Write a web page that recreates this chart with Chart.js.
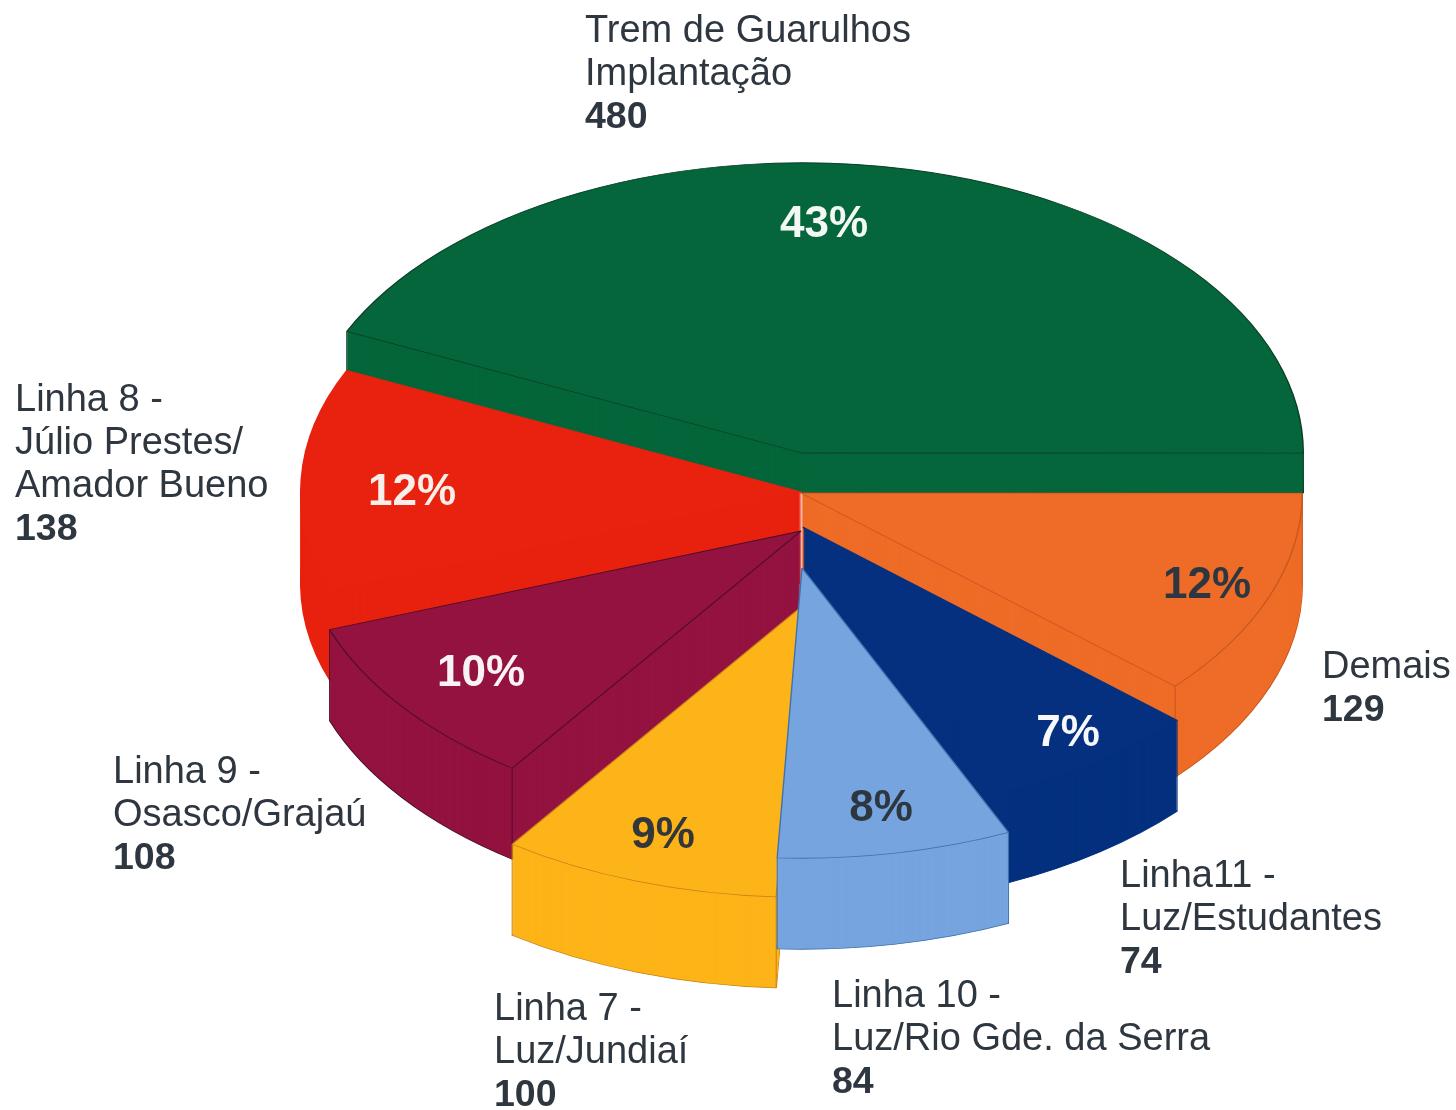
<!DOCTYPE html>
<html><head><meta charset="utf-8">
<style>html,body{margin:0;padding:0;background:#fff}canvas{display:block}</style>
<script src="https://cdn.jsdelivr.net/npm/chart.js@4/dist/chart.umd.js"></script>
</head><body><canvas id="c" width="1456" height="1110"></canvas>
<script>
const categories = ["Trem de Guarulhos Implantação","Demais","Linha11 - Luz/Estudantes","Linha 10 - Luz/Rio Gde. da Serra","Linha 7 - Luz/Jundiaí","Linha 9 - Osasco/Grajaú","Linha 8 - Júlio Prestes/Amador Bueno"];
const values = [480,129,74,84,100,108,138];
const percents = ["43%","12%","7%","8%","9%","10%","12%"];
const nameLines = [["Trem de Guarulhos","Implantação"],["Demais"],["Linha11 -","Luz/Estudantes"],["Linha 10 -","Luz/Rio Gde. da Serra"],["Linha 7 -","Luz/Jundiaí"],["Linha 9 -","Osasco/Grajaú"],["Linha 8 -","Júlio Prestes/","Amador Bueno"]];

const fills = ["#04663a","#ee6c27","#04307f","#76a4de","#fdb418","#93123f","#e8220f"];
const edges = ["#0a3f26","#c9561e","#04307f","#3f73ad","#c9801a","#4f0d2c","#e8220f"];
const pctColors = ["#f4f8f4","#2e3640","#f6f8fb","#2e3640","#33363a","#f8f2f4","#f8eeea"];
const apexY = [453,493,527,568,607,531,492];
const shiftX = [0,-1,1,0,-1,-1,0];
const depths = [40,91,91,91,91,91,91];
const drawOrder = [0,6,1,5,2,4,3];
const squash = 0.579;
const nameAnchor = [[585,42],[1322,678],[1120,887],[832,1007],[494,1020],[113,783],[15,411]];
const pctAnchor = [[824,225],[1207,586],[1068,734],[881,809],[663,836],[481,674],[412,493]];
const lineStep = 43;
const textColor = "#2e3640";

const extrude = {
  id:"extrude",
  beforeDatasetDraw(chart,args){
    const ctx = chart.ctx, meta = args.meta;
    drawOrder.forEach(i=>{
      const el = meta.data[i], depth = depths[i];
      const plain = Object.create(el);
      plain.options = Object.assign({},el.options,{borderWidth:0});
      const place = k=>{ctx.setTransform(1,0,0,1,0,0);ctx.translate(shiftX[i],apexY[i]+k);ctx.scale(1,squash);ctx.translate(0,-el.y);};
      ctx.save();
      place(depth); el.draw(ctx);
      for(let k=depth-1;k>0;k--){place(k);plain.draw(ctx);}
      place(0); el.draw(ctx);
      ctx.setTransform(1,0,0,1,0,0);
      ctx.strokeStyle=edges[i];ctx.lineWidth=1;
      const corner=(a,visible)=>{
        if(!visible) return;
        const x=shiftX[i]+el.x+Math.cos(a)*el.outerRadius, y=apexY[i]+Math.sin(a)*el.outerRadius*squash;
        ctx.beginPath();ctx.moveTo(x,y);ctx.lineTo(x,y+depth);ctx.stroke();
      };
      corner(el.startAngle,Math.sin(el.startAngle)>0||Math.cos(el.startAngle)<0);
      corner(el.endAngle,Math.sin(el.endAngle)>0||Math.cos(el.endAngle)>0);
      ctx.restore();
    });
    return false;
  },
  afterDraw(chart){
    const ctx=chart.ctx;
    ctx.save();
    ctx.textBaseline="alphabetic";
    categories.forEach((_,i)=>{
      const [x,y0]=nameAnchor[i];
      ctx.textAlign="left";ctx.fillStyle=textColor;
      ctx.font='38px "Liberation Sans"';
      nameLines[i].forEach((t,n)=>ctx.fillText(t,x,y0+n*lineStep));
      ctx.font='bold 37.5px "Liberation Sans"';
      ctx.fillText(String(values[i]),x,y0+nameLines[i].length*lineStep);
      ctx.font='bold 44px "Liberation Sans"';
      ctx.textAlign="center";ctx.textBaseline="middle";ctx.fillStyle=pctColors[i];
      ctx.fillText(percents[i],pctAnchor[i][0],pctAnchor[i][1]);
      ctx.textBaseline="alphabetic";
    });
    ctx.restore();
  }
};

new Chart(document.getElementById("c"),{
  type:"pie",
  data:{labels:categories,datasets:[{data:values,backgroundColor:fills,borderColor:edges,borderWidth:1.4,borderAlign:"center"}]},
  options:{
    responsive:false,animation:false,rotation:-65.25,
    layout:{padding:{left:300,right:152,top:53,bottom:53}},
    plugins:{legend:{display:false},tooltip:{enabled:false},title:{display:false}}
  },
  plugins:[extrude]
});
</script></body></html>
